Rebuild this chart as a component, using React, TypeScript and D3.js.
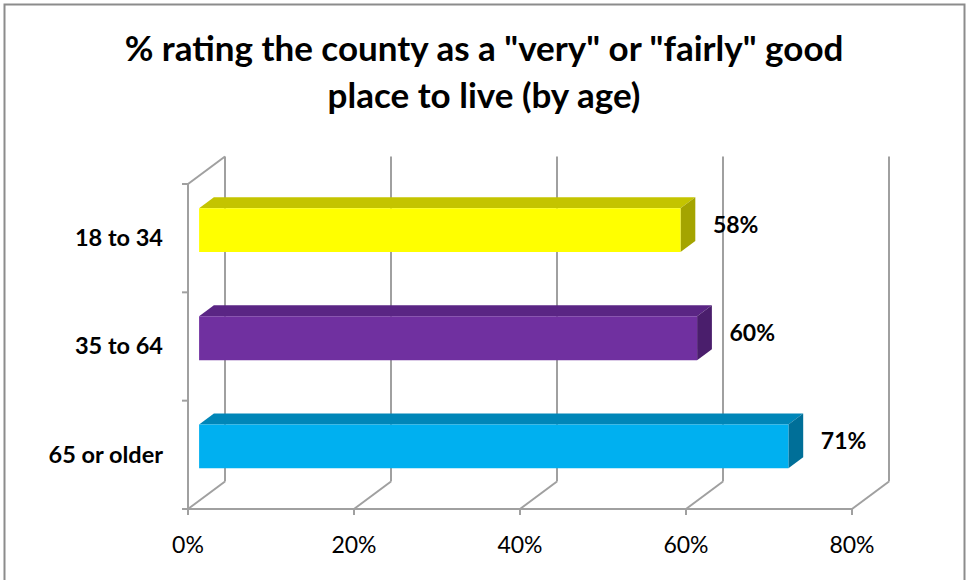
import React from "react";
import * as d3 from "d3";

const categories = ["18 to 34", "35 to 64", "65 or older"];
const values = [58, 60, 71];
const valueLabels = ["58%", "60%", "71%"];
const xTicks = [0, 20, 40, 60, 80];
const titleLines = ['% rating the county as a "very" or "fairly" good', "place to live (by age)"];

const frontColors = ["#FFFF00", "#7030A0", "#00B0F0"];
const topColors = ["#C4C400", "#5A2584", "#0086B8"];
const sideColors = ["#A4A400", "#4A1E6C", "#006F98"];

const W = 966;
const H = 580;
const FONT = "Lato, 'Open Sans', sans-serif";

export default function App() {
  const x0 = 188, x1 = 852;
  const yTop = 184, yBot = 509;
  const DX = 37, DY = -27.5;
  const x = d3.scaleLinear().domain([0, 80]).range([x0, x1]);
  const band = d3.scaleBand<string>().domain(categories).range([yTop, yBot]).paddingInner(0.595).paddingOuter(0.3);
  const P = (px: number, py: number, z: number): [number, number] => [px + DX * z, py + DY * z];
  const zF = 0.3, zB = 0.7;
  const grid = "#A0A0A0";

  const pts = (arr: [number, number][]) => arr.map((p) => p.join(",")).join(" ");

  return (
    <div style={{ position: "absolute", left: 0, top: 0 }}>
      <svg width={W} height={H} style={{ display: "block", background: "#fff" }}>
        <rect x={4.5} y={4.5} width={960} height={H + 10} fill="#fff" stroke="#8C8C8C" strokeWidth={2} />
        {titleLines.map((t, i) => (
          <text key={i} x={484} y={61 + i * 47} textAnchor="middle" fontFamily={FONT} fontWeight="bold" fontSize={35} fill="#000">
            {t}
          </text>
        ))}
        {/* back wall gridlines */}
        {xTicks.map((t) => {
          const [bx, by] = P(x(t), yBot, 1);
          const [tx, ty] = P(x(t), yTop, 1);
          return <line key={"g" + t} x1={bx} y1={by} x2={tx} y2={ty} stroke={grid} strokeWidth={2} />;
        })}
        {/* floor diagonals */}
        {xTicks.map((t) => {
          const [bx, by] = P(x(t), yBot, 1);
          return <line key={"f" + t} x1={x(t)} y1={yBot} x2={bx} y2={by} stroke={grid} strokeWidth={2} />;
        })}
        {/* left wall */}
        <line x1={x0} y1={yTop} x2={x0} y2={yBot} stroke={grid} strokeWidth={2} />
        <line x1={x0} y1={yTop} x2={P(x0, yTop, 1)[0]} y2={P(x0, yTop, 1)[1]} stroke={grid} strokeWidth={2} />
        {/* front axis line */}
        <line x1={x0} y1={yBot} x2={x1} y2={yBot} stroke={grid} strokeWidth={2} />
        {xTicks.map((t) => (
          <line key={"t" + t} x1={x(t)} y1={yBot} x2={x(t)} y2={yBot + 6} stroke={grid} strokeWidth={2} />
        ))}
        {[0, 1, 2, 3].map((i) => {
          const yy = yTop + ((yBot - yTop) / 3) * i;
          return <line key={"lt" + i} x1={x0 - 6} y1={yy} x2={x0} y2={yy} stroke={grid} strokeWidth={2} />;
        })}
        {/* bars */}
        {categories.map((c, i) => {
          const yb0 = band(c)!;
          const yb1 = yb0 + band.bandwidth();
          const xa = x(0), xb = x(values[i]);
          const f = [P(xa, yb0, zF), P(xb, yb0, zF), P(xb, yb1, zF), P(xa, yb1, zF)];
          const top = [P(xa, yb0, zF), P(xb, yb0, zF), P(xb, yb0, zB), P(xa, yb0, zB)];
          const side = [P(xb, yb0, zF), P(xb, yb0, zB), P(xb, yb1, zB), P(xb, yb1, zF)];
          return (
            <g key={c}>
              <polygon points={pts(top)} fill={topColors[i]} />
              <polygon points={pts(side)} fill={sideColors[i]} />
              <polygon points={pts(f)} fill={frontColors[i]} />
            </g>
          );
        })}
        {/* data labels */}
        {categories.map((c, i) => {
          const yc = band(c)! + band.bandwidth() / 2;
          const [lx, ly] = P(x(values[i]) + 25, yc, 0.5);
          return (
            <text key={"dl" + c} x={lx} y={ly} dy="0.35em" fontFamily={FONT} fontWeight="bold" fontSize={23} fill="#000">
              {valueLabels[i]}
            </text>
          );
        })}
        {/* category labels */}
        {categories.map((c) => {
          const yc = yTop + ((yBot - yTop) / 3) * (categories.indexOf(c) + 0.5);
          return (
            <text key={"cl" + c} x={163} y={yc} dy="0.33em" textAnchor="end" fontFamily={FONT} fontWeight="bold" fontSize={23.5} fill="#000">
              {c}
            </text>
          );
        })}
        {/* x tick labels */}
        {xTicks.map((t) => (
          <text key={"xl" + t} x={x(t)} y={553} textAnchor="middle" fontFamily={FONT} fontSize={23} fill="#000">
            {t + "%"}
          </text>
        ))}
      </svg>
    </div>
  );
}
